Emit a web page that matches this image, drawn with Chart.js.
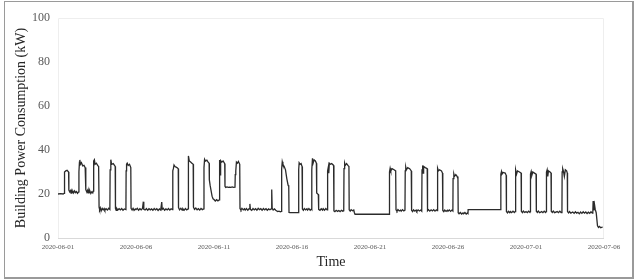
<!DOCTYPE html>
<html>
<head>
<meta charset="utf-8">
<script src="https://cdn.jsdelivr.net/npm/chart.js@4.4.1/dist/chart.umd.min.js"></script>
<style>
    html, body { margin: 0; padding: 0; background: #fff; }
    #frame {
        position: absolute; left: 4px; top: 1px;
        width: 627px; height: 275px;
        border-style: solid; border-color: #9a9a9a;
        border-width: 1px 2px 2px 1px;
    }
</style>
</head>
<body>
<div id="frame"><canvas id="powerChart"></canvas></div>
<script>
// Подписи оси X (каждые 5 суток = 120 ч)
const xTickLabels = ['2020-06-01', '2020-06-06', '2020-06-11', '2020-06-16', '2020-06-21', '2020-06-26', '2020-07-01', '2020-07-06'];
const hoursPerTick = 120;
const yTicks = [0, 20, 40, 60, 80, 100];

// Показания: [часы от 2020-06-01 00:00, кВт]
const readings = [
    // 06-01
    [0,20.0],[4,20.2],[8,20.0],[9.3,20.3],[9.6,28.5],[10.5,30.0],[12,30.5],[14,30.8],[16.3,30.0],[16.7,21.8],[18,21.0],[19,21.5],[20,20.4],[21,21.3],[22,20.6],[23,21.2],
    // 06-02
    [24,20.5],[25.5,21.4],[27,20.6],[28.5,21.1],[30,20.3],[31.8,21.0],[32.2,30.0],[33,34.5],[33.6,35.5],[34.5,33.5],[36,34.2],[38,32.8],[40,33.0],[41.8,32.0],[42.5,30.5],[43,22.0],[44.5,20.8],[45.5,21.6],[46.5,20.5],[47.5,21.2],
    // 06-03
    [48,20.6],[49,21.4],[50.5,20.2],[52,21.0],[53.5,20.5],[54.2,21.3],[54.5,30.5],[55.3,35.0],[56,35.6],[57,33.5],[59,34.0],[61,33.0],[62.5,32.5],[63.2,14.0],[64,13.0],[65,13.8],[66.5,12.4],[68,13.5],[69.5,12.8],[71,13.4],
    // 06-04
    [72,12.6],[74,13.3],[76,12.7],[78,13.5],[79.8,13.0],[80.2,31.0],[81,35.0],[81.5,35.6],[82.5,33.5],[85,33.8],[88,32.5],[88.4,13.5],[89.5,12.6],[90.5,13.4],[92,12.7],[94,13.3],
    // 06-05
    [96,12.8],[98,13.4],[100,12.6],[102,13.2],[104.5,12.9],[104.8,30.5],[105.5,33.5],[106.5,34.0],[108,33.0],[110,33.5],[112,32.0],[112.4,13.5],[114,12.7],[115.5,13.5],[117,12.6],[119,13.2],
    // 06-06
    [120,12.9],[122,13.5],[124,12.6],[126,13.3],[128,12.8],[130,13.4],[131.3,16.5],[132,13.0],[134,12.7],[136,13.4],[138,12.6],[140,13.3],[142,12.8],
    // 06-07
    [144,13.2],[146,12.6],[148,13.4],[150,12.8],[152,13.3],[154,12.5],[156,13.2],[158,12.7],[159.6,16.3],[160.3,13.0],[162,13.5],[164,12.6],[166,13.2],
    // 06-08
    [168,12.8],[170,13.4],[172,12.7],[174,13.3],[176.2,12.9],[176.6,30.5],[177.5,31.5],[178.5,33.2],[180,32.5],[183,32.0],[185,31.5],[185.4,13.8],[187,12.8],[189,13.5],[191,12.7],
    // 06-09
    [192,13.3],[194,12.6],[196,13.4],[198,12.8],[200,13.2],[200.3,31.0],[201,37.3],[202,35.0],[204,34.5],[206,34.0],[208,33.5],[208.4,14.0],[210,13.0],[212,13.6],[214,12.8],
    // 06-10
    [216,13.3],[218,12.7],[220,13.4],[222,12.9],[224.3,13.2],[224.6,32.0],[225.5,35.8],[227,35.0],[229,35.4],[231,34.5],[232.5,34.0],[232.8,26.5],[234,24.0],[235.5,21.5],[237,19.0],[238.5,17.8],
    // 06-11
    [240,17.5],[242,16.8],[244,17.4],[246,16.9],[248,17.3],[248.3,30.0],[249,35.5],[249.6,28.7],[250.2,35.2],[252,34.5],[254,35.0],[256.5,33.8],[256.9,23.5],[258,23.0],[260,23.2],[262,23.0],
    // 06-12
    [264,23.1],[266,23.0],[268,23.2],[270,23.0],[272.3,23.1],[272.7,28.8],[273.5,30.5],[274.5,34.5],[276,34.0],[277.5,34.8],[279.6,33.5],[280,13.4],[281.5,12.7],[283,13.5],[285,12.8],[287,13.3],
    // 06-13
    [288,12.7],[290,13.4],[292,12.6],[294,13.3],[295.2,15.5],[296,13.0],[298,12.6],[300,13.4],[302,12.8],[304,13.3],[306,12.6],[308,13.5],[310,12.9],
    // 06-14
    [312,13.3],[314,12.6],[316,13.4],[318,12.8],[320,13.3],[322,12.6],[324,13.2],[326,12.8],[328.5,13.3],[328.8,22.0],[329.5,13.5],[331,12.7],[333,13.2],[335,12.6],
    // 06-15
    [336,12.4],[338,12.0],[340,12.2],[342,11.9],[343.8,12.1],[344.1,31.5],[345,34.7],[346,33.5],[348,32.5],[350,31.0],[352,27.0],[354,24.0],[355,23.5],[355.4,11.6],[357,11.5],
    // 06-16
    [369.8,11.5],[370.3,31.0],[371,34.2],[372.5,33.5],[374,33.8],[375.5,32.5],[376,13.2],[377.5,12.6],[379,13.4],[381,12.8],[383,13.3],
    // 06-17
    [384,12.7],[386,13.4],[388,12.6],[390,13.2],[390.3,13.0],[390.6,31.0],[391.5,36.2],[392.5,34.0],[394,35.5],[396,35.0],[397.5,34.0],[398,20.5],[399.5,20.0],[400.5,19.8],[401,13.0],[403,12.6],[405,13.3],[407,12.7],
    // 06-18
    [408,13.3],[410,12.6],[412,13.4],[414,12.8],[414.6,13.0],[415,30.5],[416,32.4],[416.6,29.5],[417.4,34.0],[419,33.5],[421,33.8],[424,33.0],[424.5,12.3],[426,12.0],[428,12.6],[430,12.1],
    // 06-19
    [432,12.5],[434,12.0],[436,12.6],[438,12.2],[439.6,12.4],[440,31.5],[441,34.0],[442,33.0],[444,33.8],[446,33.0],[447.6,32.5],[448,12.8],[449.5,12.2],[451,12.9],[453,12.4],[455,12.7],
    // 06-20 .. 06-22
    [456,11.5],[457,10.8],[509.6,10.8],
    [510,30.0],[511,31.7],[512,30.5],[514,31.5],[517,31.0],[519.5,30.5],[520,12.8],[521.5,12.2],[523,12.9],[525,12.3],[527,12.7],
    // 06-23
    [528,12.2],[530,12.9],[532,12.3],[533.8,12.7],[534.2,30.5],[535,32.3],[536,31.0],[538,32.0],[541,31.5],[543.5,30.5],[544,12.6],[545.5,12.0],[547,12.8],[549,12.2],[551,12.7],
    // 06-24
    [552,12.1],[554,12.8],[556,12.3],[558,12.7],[559.6,12.2],[560,31.0],[561,33.0],[561.7,29.5],[562.5,32.5],[565,32.0],[568,31.5],[568.5,12.4],[570,12.9],[572,12.2],[574,12.8],
    // 06-25
    [576,12.3],[578,12.9],[580,12.2],[582,12.8],[583.2,12.4],[583.5,30.0],[584.5,31.7],[585.3,30.5],[587,31.0],[590,30.5],[591.5,29.5],[592,12.5],[593.5,12.0],[595,12.7],[597,12.1],[599,12.6],
    // 06-26
    [600,12.2],[602,12.8],[604,12.1],[606,12.7],[607.5,12.3],[607.8,27.0],[609,29.1],[610,28.0],[612,28.8],[614,28.0],[615.3,27.0],[615.7,11.5],[617,11.0],[619,11.6],[621,10.9],[623,11.4],
    // 06-27 .. 06-29
    [624,11.0],[626,11.6],[628,10.9],[630,11.4],[630.7,11.2],[631,12.9],[681,12.9],
    [681.3,29.0],[682.3,30.2],[683,29.0],[685,29.8],[688,29.5],[689.5,28.5],[689.9,12.0],[691.5,11.4],[693,12.1],[695,11.5],
    // 06-30
    [696,12.0],[698,11.5],[700,12.2],[702,11.6],[703.3,12.0],[703.6,29.5],[704.5,31.0],[705.5,29.0],[707,30.5],[710,30.0],[712.5,29.5],[712.9,12.1],[714.5,11.5],[716,12.2],[718,11.6],
    // 07-01
    [720,12.0],[722,11.5],[724,12.2],[726,11.6],[726.6,12.0],[726.9,29.0],[728,30.2],[729,28.5],[730.5,30.0],[733,29.5],[735.5,29.0],[735.9,12.2],[737.5,11.6],[739,12.2],[741,11.5],
    // 07-02
    [744,12.0],[746,11.5],[748,12.2],[750,11.6],[751.2,12.0],[751.5,30.0],[752.5,31.0],[753.5,28.0],[754.5,30.5],[757,30.0],[758.5,29.5],[758.9,12.2],[760.5,11.6],[762,12.2],[764,11.5],
    // 07-03
    [768,12.0],[770,11.5],[772,12.2],[774,11.6],[775.3,12.0],[775.6,30.0],[776.5,31.5],[777.5,30.5],[779,28.0],[780.5,31.0],[782.5,30.5],[783.5,29.5],[783.9,12.0],[785.5,11.4],[787,12.0],[789,11.3],
    // 07-04
    [792,11.8],[794,11.2],[796,11.9],[798,11.3],[800,11.7],[802,11.0],[804,11.8],[806,11.2],[808,11.9],[810,11.3],[812,11.8],[814,11.1],
    // 07-05
    [816,11.7],[818,11.2],[820,11.9],[822,11.3],[822.8,12.0],[823.3,16.8],[824.5,12.5],[825.5,15.0],[826.5,13.0],[828,11.5],[830,5.5],[831.5,4.8],[833,5.3],[835,4.7],[838,5.0]
];

const serif = '"Liberation Serif", "Times New Roman", serif';

// Тонкая рамка области построения
const plotFrame = {
    id: 'plotFrame',
    beforeDatasetsDraw(chart) {
        const {ctx, chartArea: a} = chart;
        ctx.save();
        ctx.lineWidth = 1;
        ctx.strokeStyle = '#eeeeee';
        ctx.beginPath();
        ctx.moveTo(a.left + 0.5, a.bottom);
        ctx.lineTo(a.left + 0.5, a.top + 0.5);
        ctx.lineTo(a.right - 0.5, a.top + 0.5);
        ctx.lineTo(a.right - 0.5, a.bottom);
        ctx.stroke();
        ctx.strokeStyle = '#d9d9d9';
        ctx.beginPath();
        ctx.moveTo(a.left, a.bottom + 0.5);
        ctx.lineTo(a.right, a.bottom + 0.5);
        ctx.stroke();
        ctx.restore();
    }
};

new Chart(document.getElementById('powerChart').getContext('2d'), {
    type: 'line',
    data: {
        datasets: [{
            data: readings.map(([h, v]) => ({x: h, y: v})),
            borderColor: '#2b2b2b',
            borderWidth: 1.3,
            pointRadius: 0,
            tension: 0,
            fill: false
        }]
    },
    options: {
        responsive: true,
        maintainAspectRatio: false,
        animation: false,
        layout: { padding: { top: 16, right: 28, left: 0, bottom: 0 } },
        plugins: { legend: { display: false }, tooltip: { enabled: false } },
        scales: {
            x: {
                type: 'linear',
                min: 0,
                max: (xTickLabels.length - 1) * hoursPerTick,
                afterBuildTicks(scale) {
                    scale.ticks = xTickLabels.map((l, i) => ({ value: i * hoursPerTick }));
                },
                afterFit(scale) { scale.height = 39; },
                grid: { display: false, drawTicks: false },
                border: { display: false },
                ticks: {
                    autoSkip: false,
                    maxRotation: 0,
                    padding: 5,
                    color: '#595959',
                    font: { family: serif, size: 7 },
                    callback: (v) => xTickLabels[Math.round(v / hoursPerTick)]
                },
                title: {
                    display: true,
                    text: 'Time',
                    color: '#262626',
                    font: { family: serif, size: 14 },
                    padding: { top: 0, bottom: 6 }
                }
            },
            y: {
                min: yTicks[0],
                max: yTicks[yTicks.length - 1],
                afterBuildTicks(scale) {
                    scale.ticks = yTicks.map(v => ({ value: v }));
                },
                afterFit(scale) { scale.width = 53; },
                grid: { display: false, drawTicks: false },
                border: { display: false },
                ticks: {
                    padding: 8,
                    color: '#595959',
                    font: { family: serif, size: 12 }
                },
                title: {
                    display: true,
                    text: 'Building Power Consumption (kW)',
                    color: '#262626',
                    font: { family: serif, size: 14 },
                    padding: { top: 8, bottom: 0 }
                }
            }
        }
    },
    plugins: [plotFrame]
});
</script>
</body>
</html>
